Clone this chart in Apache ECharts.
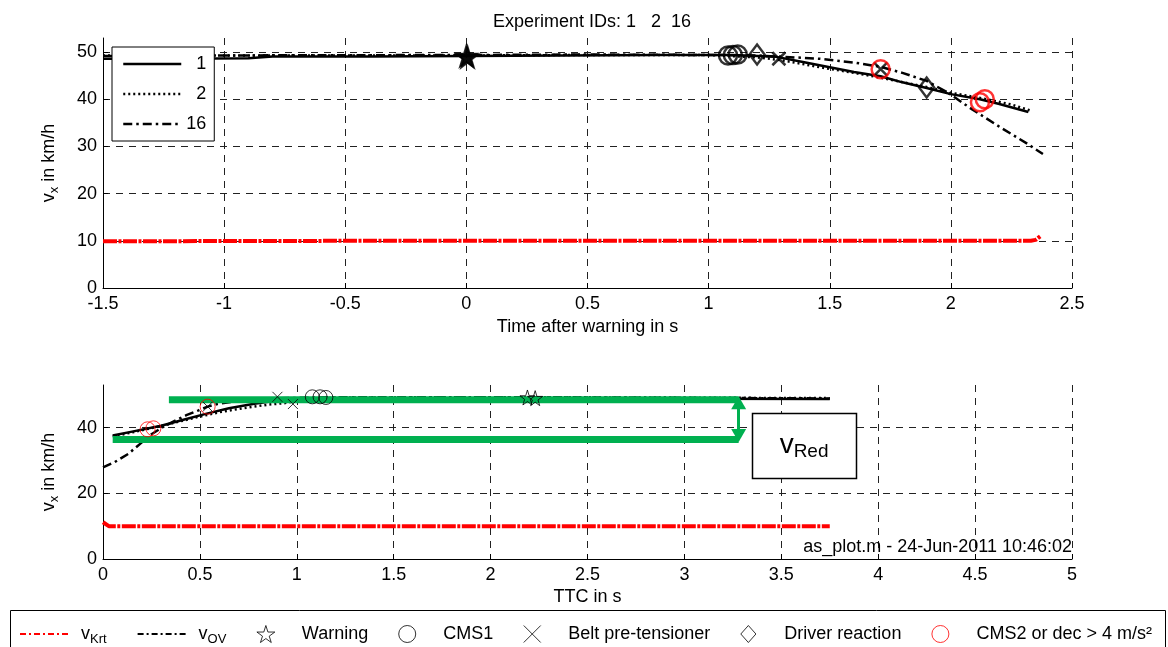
<!DOCTYPE html>
<html>
<head>
<meta charset="utf-8">
<script src="https://cdn.jsdelivr.net/npm/echarts@6/dist/echarts.min.js"></script>
<style>
html, body { margin: 0; padding: 0; background: #fff; }
#main { width: 1168px; height: 647px; }
</style>
</head>
<body>
<div id="main"></div>
<script>
var FONT = '"Liberation Sans", Arial, Helvetica, sans-serif';

// ---- top plot: v over time after warning (s) ----
var run1Top = [[-1.5,48.6],[-1.2,48.6],[-0.9,48.7],[-0.8,49.1],[-0.4,49.1],[0,49.2],[0.4,49.3],[0.8,49.4],[1.1,49.4],[1.28,49.0],[1.4,47.8],[1.5,46.8],[1.6,45.8],[1.71,44.9],[1.8,43.6],[1.9,42.4],[2.0,41.1],[2.12,40.0],[2.2,39.0],[2.32,37.3]];
var run2Top = [[-1.5,49.3],[-1,49.3],[0,49.3],[0.5,49.4],[1.0,49.4],[1.2,48.9],[1.3,48.3],[1.46,46.8],[1.6,45.6],[1.71,44.6],[1.9,42.6],[2.0,41.4],[2.14,40.1],[2.25,38.9],[2.33,37.6]];
var run16Top = [[-1.5,49.2],[-1,49.3],[0,49.4],[0.5,49.5],[1.0,49.4],[1.2,49.3],[1.46,48.6],[1.6,47.8],[1.71,46.9],[1.8,45.6],[1.9,43.9],[1.985,41.5],[2.09,37.8],[2.2,34.2],[2.315,30.6],[2.38,28.4]];
var krtTop = [[-1.5,9.9],[-0.5,10],[0.5,10],[1.5,10],[2.33,10],[2.35,10.2],[2.37,11]];

var warnTop = [[0,49.2],[0.005,49.0]];
var cms1Top = [[1.08,49.3],[1.10,49.4],[1.12,49.5]];
var beltTop = [[1.29,48.6],[1.71,46.4]];
var driverTop = [[1.2,49.5],[1.9,42.5]];
var cms2Top = [[1.71,46.4],[2.12,39.4],[2.14,40.0]];

// ---- bottom plot: v over TTC (s) ----
var run1Bot = [[0.05,37.6],[0.15,38.8],[0.3,40.6],[0.42,42.5],[0.53,44.2],[0.65,45.9],[0.78,47.3],[0.9,48.3],[1.0,48.8],[1.5,49.0],[2.2,49.0],[3.0,48.8],[3.75,48.7]];
var run2Bot = [[0.05,37.3],[0.2,39.2],[0.35,41.2],[0.47,43.0],[0.6,44.7],[0.73,46.0],[0.85,47.0],[0.94,47.5],[1.05,48.6],[1.2,49.2],[2.2,49.3],[3.75,49.0]];
var run16Bot = [[0,27.9],[0.06,29.5],[0.13,32.0],[0.19,35.0],[0.25,38.0],[0.31,40.2],[0.37,42.1],[0.43,43.8],[0.49,45.2],[0.54,46.4],[0.59,47.2],[0.7,48.2],[0.85,48.9],[1.2,49.3],[2.2,49.3],[3.75,48.9]];
var krtBot = [[0,11.2],[0.03,10],[1,10],[2,10],[3,10],[3.75,10]];

var warnBot = [[2.19,49.2],[2.23,49.0]];
var cms1Bot = [[1.08,49.4],[1.12,49.4],[1.15,49.2]];
var beltBot = [[0.54,46.4],[0.9,49.4],[0.98,47.2]];
var cms2Bot = [[0.23,39.5],[0.26,39.8],[0.54,46.4]];

// v_Red annotation
var vUpper = [[0.34,48.5],[3.28,48.5]];
var vLower = [[0.05,36.4],[3.28,36.4]];
var arrowEnds = [[3.28,47.6],[3.28,37.6]];
var redBox = [[3.35,44.5],[3.885,24.8]];

var topXTicks = { min: -1.5, max: 2.5, step: 0.5 };
var botXTicks = { min: 0, max: 5, step: 0.5 };

var STAR = 'path://M50,0L61,35L98,35L68,57L79,91L50,70L21,91L32,57L2,35L39,35Z';
var CROSS = 'path://M0,0L10,10M10,0L0,10';
var DIAMOND = 'path://M8,0L16,9L8,18L0,9Z';
var DASHDOT = [9, 4, 2.5, 4];
var DOTTED = [2, 3];
var GREEN = '#00b050';
var FS = 18;

function gridLine() {
    return { show: true, lineStyle: { color: '#222', type: [7, 6], width: 1 } };
}
function xAx(idx, t, name, gap) {
    return {
        type: 'value', gridIndex: idx, min: t.min, max: t.max, interval: t.step,
        name: name, nameLocation: 'middle', nameGap: gap,
        nameTextStyle: { color: '#000', fontSize: FS, fontFamily: FONT },
        axisLine: { onZero: false, lineStyle: { color: '#000', width: 1 } },
        axisTick: { inside: true, length: 5, lineStyle: { color: '#000' } },
        axisLabel: { color: '#000', fontSize: FS, fontFamily: FONT, margin: 7 },
        splitLine: gridLine()
    };
}
function yAx(idx, step) {
    return {
        type: 'value', gridIndex: idx, min: 0, max: 53, interval: step,
        name: '{v|v}{s|x}{t| in km/h}', nameLocation: 'middle', nameGap: 42, nameRotate: 90,
        nameTextStyle: {
            color: '#000', fontFamily: FONT,
            rich: {
                v: { fontSize: FS, fontFamily: FONT, color: '#000' },
                s: { fontSize: 13, fontFamily: FONT, color: '#000', padding: [10, 0, 0, 0] },
                t: { fontSize: FS, fontFamily: FONT, color: '#000' }
            }
        },
        axisLine: { show: true, onZero: false, lineStyle: { color: '#000', width: 1 } },
        axisTick: { show: true, inside: true, length: 5, lineStyle: { color: '#000' } },
        axisLabel: { color: '#000', fontSize: FS, fontFamily: FONT, margin: 6, showMaxLabel: false },
        splitLine: Object.assign(gridLine(), { showMaxLine: false })
    };
}
function runLine(name, data, idx, type) {
    return {
        name: name, type: 'line', xAxisIndex: idx, yAxisIndex: idx, data: data,
        symbol: 'none', smooth: false, z: 2, silent: true,
        itemStyle: { color: '#000' },
        lineStyle: { color: '#000', width: 2.5, type: type }
    };
}
function marks(name, data, idx, symbol, size, color, fill, bw) {
    return {
        name: name, type: 'scatter', xAxisIndex: idx, yAxisIndex: idx, data: data,
        symbol: symbol, symbolSize: size, z: 5, silent: true,
        itemStyle: { color: fill, borderColor: color, borderWidth: bw }
    };
}
function legendOnly(name, type, extra) {
    var s = { name: name, type: type, data: [], xAxisIndex: 0, yAxisIndex: 0 };
    return Object.assign(s, extra);
}
function lineItem(name, color, width, type) {
    return { name: name, itemStyle: { color: 'transparent', borderColor: 'transparent', opacity: 0 },
             lineStyle: { color: color, width: width, type: type, opacity: 1 } };
}
function symItem(name, stroke, fill) {
    return { name: name, itemStyle: { color: fill, borderColor: stroke, borderWidth: 1 } };
}

var chart = echarts.init(document.getElementById('main'));

var option = {
    animation: false,
    backgroundColor: '#fff',
    title: {
        text: 'Experiment IDs: 1   2  16', left: 587, top: 8, textAlign: 'center',
        textStyle: { color: '#000', fontSize: FS, fontWeight: 'normal', fontFamily: FONT }
    },
    grid: [
        { left: 103, right: 96, top: 38, height: 250 },
        { left: 103, right: 96, top: 385, height: 174 }
    ],
    xAxis: [
        xAx(0, topXTicks, 'Time after warning in s', 30),
        xAx(1, botXTicks, 'TTC in s', 29)
    ],
    yAxis: [yAx(0, 10), yAx(1, 20)],
    legend: [
        {
            orient: 'vertical', left: 112, top: 47, z: 10,
            padding: [8, 8, 8, 10], itemGap: 12, itemWidth: 58, itemHeight: 14,
            backgroundColor: '#fff', borderColor: '#000', borderWidth: 1,
            selectedMode: false,
            formatter: function (name) { return name.length < 2 ? '  ' + name : name; },
            textStyle: { color: '#000', fontSize: FS, fontFamily: FONT },
            data: [
                lineItem('1', '#000', 2.5, 'solid'),
                lineItem('2', '#000', 2.5, DOTTED),
                lineItem('16', '#000', 2.5, DASHDOT)
            ]
        },
        {
            orient: 'horizontal', left: 14, top: 620, z: 10,
            itemGap: 30, itemWidth: 50, itemHeight: 17, selectedMode: false,
            symbolKeepAspect: true,
            formatter: function (name) {
                if (name === 'vKrt') return '{v|v}{s|Krt}';
                if (name === 'vOV') return '{v|v}{s|OV}';
                return name;
            },
            textStyle: {
                color: '#000', fontSize: FS, fontFamily: FONT, padding: [0, 0, 0, 6],
                rich: {
                    v: { fontSize: FS, fontFamily: FONT, color: '#000' },
                    s: { fontSize: 13, fontFamily: FONT, color: '#000', padding: [10, 0, 0, 0] }
                }
            },
            data: [
                lineItem('vKrt', '#ff0000', 2, [6, 3, 2, 3]),
                lineItem('vOV', '#000', 2, [6, 3, 2, 3]),
                symItem('Warning', '#000', '#fff'),
                symItem('CMS1', '#000', '#fff'),
                symItem('Belt pre-tensioner', '#000', 'transparent'),
                symItem('Driver reaction', '#000', '#fff'),
                symItem('CMS2 or dec > 4 m/s²', '#ff0000', '#fff')
            ]
        }
    ],
    series: [
        // legend-only entries
        legendOnly('vKrt', 'line', { symbol: 'none', itemStyle: { color: '#ff0000' }, lineStyle: { color: '#ff0000', type: [6, 3, 2, 3] } }),
        legendOnly('vOV', 'line', { symbol: 'none', itemStyle: { color: '#000' }, lineStyle: { color: '#000', type: [6, 3, 2, 3] } }),
        legendOnly('Warning', 'scatter', { symbol: STAR, symbolKeepAspect: true, itemStyle: { color: '#fff', borderColor: '#000', borderWidth: 1 } }),
        legendOnly('CMS1', 'scatter', { symbol: 'circle', itemStyle: { color: '#fff', borderColor: '#000', borderWidth: 1 } }),
        legendOnly('Belt pre-tensioner', 'scatter', { symbol: CROSS, symbolKeepAspect: true, itemStyle: { color: 'transparent', borderColor: '#000', borderWidth: 1 } }),
        legendOnly('Driver reaction', 'scatter', { symbol: DIAMOND, symbolKeepAspect: true, itemStyle: { color: '#fff', borderColor: '#000', borderWidth: 1 } }),
        legendOnly('CMS2 or dec > 4 m/s²', 'scatter', { symbol: 'circle', itemStyle: { color: '#fff', borderColor: '#ff0000', borderWidth: 1 } }),

        // top plot
        { name: 'krtTop', type: 'line', xAxisIndex: 0, yAxisIndex: 0, data: krtTop, symbol: 'none', z: 2, silent: true,
          lineStyle: { color: '#ff0000', width: 4, type: [14, 1.5, 3, 1.5] } },
        runLine('1', run1Top, 0, 'solid'),
        runLine('2', run2Top, 0, DOTTED),
        runLine('16', run16Top, 0, DASHDOT),
        marks('warnTop', warnTop, 0, STAR, 22, '#000', '#000', 1.5),
        marks('cms1Top', cms1Top, 0, 'circle', 18, '#000', 'transparent', 2.5),
        marks('driverTop', driverTop, 0, 'path://M7,0L14,10L7,20L0,10Z', [15, 20], '#000', 'transparent', 2.5),
        marks('beltTop', beltTop, 0, CROSS, 13, '#000', 'transparent', 2.5),
        marks('cms2Top', cms2Top, 0, 'circle', 18, '#ff0000', 'transparent', 2.5),

        // bottom plot
        { name: 'krtBot', type: 'line', xAxisIndex: 1, yAxisIndex: 1, data: krtBot, symbol: 'none', z: 2, silent: true,
          lineStyle: { color: '#ff0000', width: 4, type: [14, 1.5, 3, 1.5] } },
        runLine('1b', run1Bot, 1, 'solid'),
        runLine('2b', run2Bot, 1, DOTTED),
        runLine('16b', run16Bot, 1, DASHDOT),
        { name: 'vUpper', type: 'line', xAxisIndex: 1, yAxisIndex: 1, data: vUpper, symbol: 'none', z: 3, silent: true,
          lineStyle: { color: GREEN, width: 7, cap: 'butt' } },
        { name: 'vLower', type: 'line', xAxisIndex: 1, yAxisIndex: 1, data: vLower, symbol: 'none', z: 3, silent: true,
          lineStyle: { color: GREEN, width: 7, cap: 'butt' },
          markLine: {
              silent: true, symbol: ['triangle', 'triangle'], symbolSize: [15, 13],
              label: { show: false },
              lineStyle: { color: GREEN, width: 3, type: 'solid' },
              itemStyle: { color: GREEN },
              data: [[{ coord: arrowEnds[0] }, { coord: arrowEnds[1] }]]
          } },
        marks('warnBot', warnBot, 1, STAR, 15, '#000', 'transparent', 1),
        marks('cms1Bot', cms1Bot, 1, 'circle', 14, '#000', 'transparent', 1),
        marks('beltBot', beltBot, 1, CROSS, 10, '#000', 'transparent', 1),
        marks('cms2Bot', cms2Bot, 1, 'circle', 15, '#ff0000', 'transparent', 1)
    ]
};

chart.setOption(option);

var p0 = chart.convertToPixel({ gridIndex: 1 }, redBox[0]);
var p1 = chart.convertToPixel({ gridIndex: 1 }, redBox[1]);

chart.setOption({
    graphic: [
        {
            type: 'rect', z: 20,
            shape: { x: Math.round(p0[0]) + 0.5, y: Math.round(p0[1]) + 0.5, width: Math.round(p1[0] - p0[0]), height: Math.round(p1[1] - p0[1]) },
            style: { fill: '#fff', stroke: '#000', lineWidth: 1.5 }
        },
        {
            type: 'text', z: 21,
            x: (p0[0] + p1[0]) / 2, y: (p0[1] + p1[1]) / 2,
            style: {
                text: '{v|v}{s|Red}', align: 'center', verticalAlign: 'middle',
                rich: {
                    v: { fontSize: 28, fontFamily: FONT, fill: '#000' },
                    s: { fontSize: 19, fontFamily: FONT, fill: '#000', padding: [14, 0, 0, 0] }
                }
            }
        },
        {
            type: 'text', z: 21, right: 96, top: 538,
            style: { text: 'as_plot.m - 24-Jun-2011 10:46:02', fontSize: FS, fontFamily: FONT, fill: '#000' }
        },
        {
            type: 'rect', z: 0, silent: true,
            shape: { x: 10.5, y: 610.5, width: 1155, height: 50 },
            style: { fill: 'none', stroke: '#000', lineWidth: 1 }
        }
    ]
});
</script>
</body>
</html>
